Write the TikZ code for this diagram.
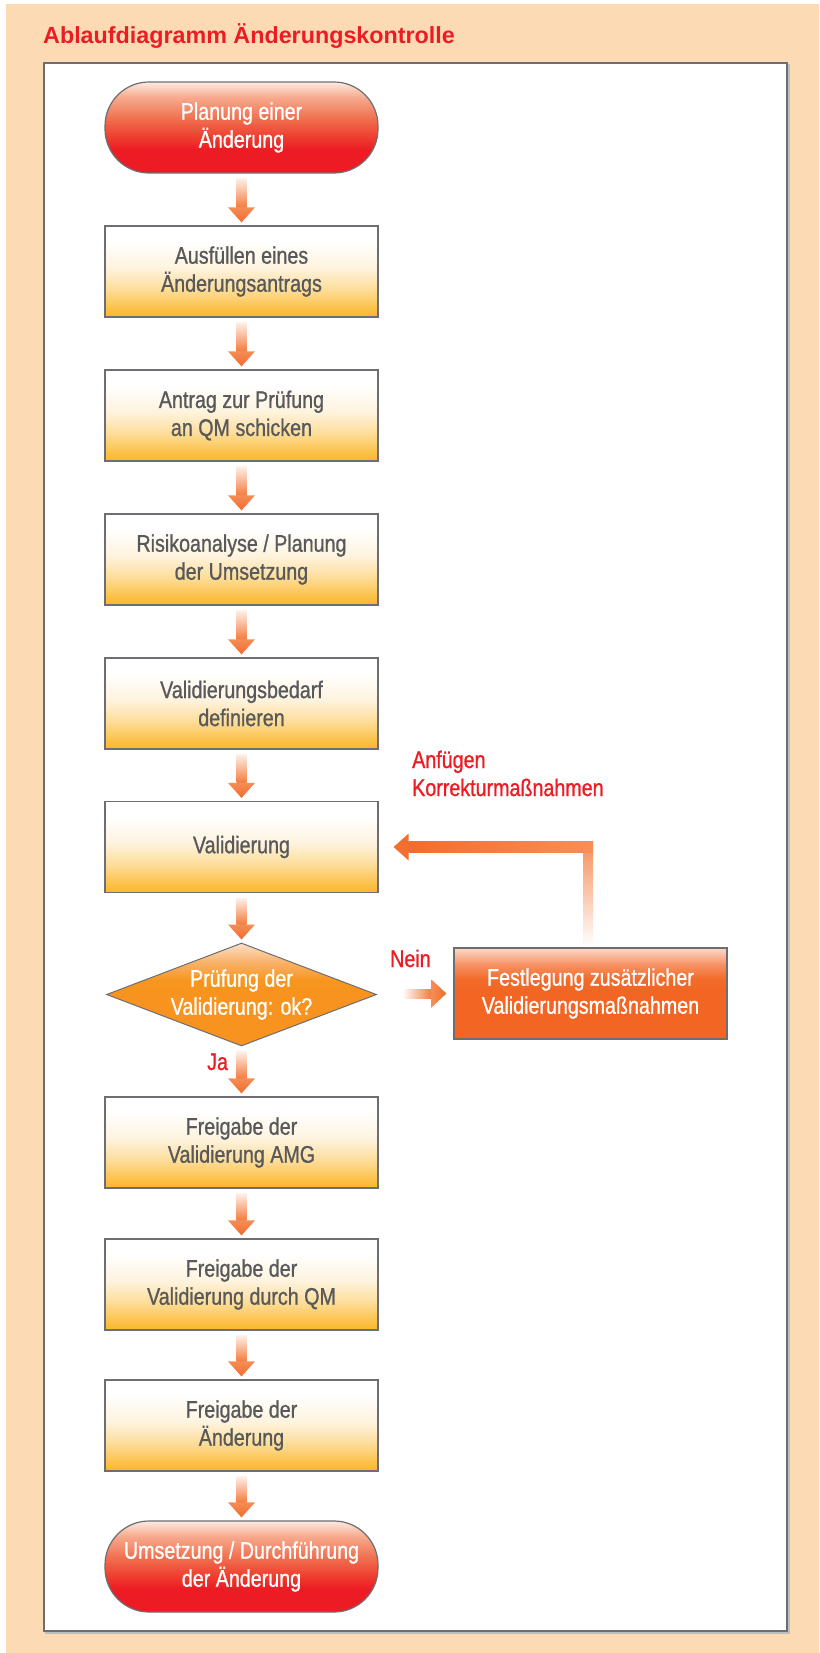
\documentclass[tikz,border=0pt]{standalone}
\usepackage{fontspec}
\setmainfont{Liberation Sans}
\newfontfamily\condf[FakeStretch=0.82,FakeBold=0.9]{Liberation Sans}
\usetikzlibrary{calc,shapes.geometric}

\definecolor{peach}{HTML}{FCDAB3}
\definecolor{peachlight}{HTML}{FDEFE0}
\definecolor{titlered}{HTML}{ED1C24}
\definecolor{framegray}{HTML}{6D6E71}
\definecolor{txtgray}{HTML}{58595B}
\definecolor{arrowc}{HTML}{F47B3C}
\definecolor{arrowA}{HTML}{F58D55}
\definecolor{arrowB}{HTML}{F26B2D}
% yellow box
\definecolor{ybA}{HTML}{FBB62B}
\definecolor{ybB}{HTML}{FCC24A}
\definecolor{ybC}{HTML}{FDDC98}
\definecolor{ybD}{HTML}{FEF3DE}
% red terminal
\definecolor{rtA}{HTML}{ED1C24}
\definecolor{rtB}{HTML}{EE3A2D}
\definecolor{rtC}{HTML}{F0704F}
\definecolor{rtD}{HTML}{F7AC90}
\definecolor{rtE}{HTML}{FDEBE2}
% diamond
\definecolor{odA}{HTML}{F7931E}
\definecolor{odB}{HTML}{F7961F}
\definecolor{odC}{HTML}{F9B36C}
\definecolor{odD}{HTML}{FCE0C8}
% action box
\definecolor{ofA}{HTML}{F26522}
\definecolor{ofB}{HTML}{F26B2A}
\definecolor{ofC}{HTML}{F69265}
\definecolor{ofD}{HTML}{FCD9C8}

\pgfdeclareverticalshading{ybox}{100bp}{color(0bp)=(ybA); color(25bp)=(ybA); color(30bp)=(ybB); color(40bp)=(ybC); color(52bp)=(ybD); color(67bp)=(white); color(100bp)=(white)}
\pgfdeclareverticalshading{rterm}{100bp}{color(0bp)=(rtA); color(38bp)=(rtA); color(44bp)=(rtB); color(55bp)=(rtC); color(67bp)=(rtD); color(75bp)=(rtE); color(100bp)=(rtE)}
\pgfdeclareverticalshading{odia}{100bp}{color(0bp)=(odA); color(50bp)=(odA); color(57bp)=(odB); color(66bp)=(odC); color(75bp)=(odD); color(100bp)=(odD)}
\pgfdeclareverticalshading{ofest}{100bp}{color(0bp)=(ofA); color(50bp)=(ofA); color(58bp)=(ofB); color(66bp)=(ofC); color(75bp)=(ofD); color(100bp)=(ofD)}

\newcommand{\nodefont}{\condf\fontsize{24}{28}\selectfont}

\tikzset{
  flowbox/.style={rectangle, draw=framegray, line width=1.2pt, shading=ybox,
    minimum width=273pt, minimum height=91pt, inner sep=0pt, align=center,
    font=\nodefont, text=txtgray},
  termbox/.style={rectangle, rounded corners=44pt, draw=framegray, line width=1.2pt,
    shading=rterm, minimum width=273pt, minimum height=91pt, inner sep=0pt,
    align=center, font=\nodefont, text=white},
  actbox/.style={rectangle, draw=framegray, line width=1.2pt, shading=ofest,
    minimum width=273pt, minimum height=91pt, inner sep=0pt, align=center,
    font=\nodefont, text=white},
  diabox/.style={diamond, draw=framegray, line width=1pt, shading=odia,
    minimum width=270pt, minimum height=103pt, inner sep=0pt},
  diatext/.style={align=center, font=\nodefont, text=white, inner sep=0pt},
  redlabel/.style={anchor=base west, inner sep=0pt, align=left,
    font=\nodefont, text=titlered}
}

% vertical gradient arrow between two named nodes
\newcommand{\flowdown}[2]{%
  \coordinate (fa) at ($(#1.south)+(0,5)$);
  \coordinate (fb) at ($(#2.north)+(0,-3)$);
  \shade[top color=arrowc!12!white, bottom color=arrowc]
    ($(fa)+(-5,0)$) rectangle ($(fb)+(5,-15)$);
  \shade[top color=arrowA, bottom color=arrowB]
    ($(fb)+(-13.5,-15)$) -- ($(fb)+(13.5,-15)$) -- (fb) -- cycle;
}

\begin{document}
\begin{tikzpicture}[x=1pt, y=-1pt]
\useasboundingbox (0,0) rectangle (819,1653);
\fill[white] (0,0) rectangle (819,1653);
\shade[top color=peach, middle color=peachlight, bottom color=peach]
  (6,5) rectangle (819,1653);

% title
\node[anchor=base west, inner sep=0pt, text=titlered,
  font=\bfseries\fontsize{23.3}{28}\selectfont] (title) at (43,44)
  {Ablaufdiagramm Änderungskontrolle};

% inner frame
\draw[framegray!45, line width=1.5pt] (46,65) rectangle (789,1633);
\draw[framegray, fill=white, line width=1.8pt] (44,63) rectangle (787,1631);

% nodes
\node[termbox] (n1) at (241.5,127.5) {Planung einer\\Änderung};
\node[flowbox] (n2) at (241.5,271.5) {Ausfüllen eines\\Änderungsantrags};
\node[flowbox] (n3) at (241.5,415.5) {Antrag zur Prüfung\\an QM schicken};
\node[flowbox] (n4) at (241.5,559.5) {Risikoanalyse / Planung\\der Umsetzung};
\node[flowbox] (n5) at (241.5,703.5) {Validierungsbedarf\\definieren};
\node[flowbox] (v) at (241.5,847) {Validierung};
\node[diabox] (d) at (241.5,994.5) {};
\node[diatext] (dt) at (d.center) {Prüfung der\\Validierung: ok?};
\node[actbox] (f) at (590.5,993.5) {Festlegung zusätzlicher\\Validierungsmaßnahmen};
\node[flowbox] (n8) at (241.5,1142.5) {Freigabe der\\Validierung AMG};
\node[flowbox] (n9) at (241.5,1284.5) {Freigabe der\\Validierung durch QM};
\node[flowbox] (n10) at (241.5,1425.5) {Freigabe der\\Änderung};
\node[termbox] (n11) at (241.5,1566.5) {Umsetzung / Durchführung\\der Änderung};

% vertical arrows
\flowdown{n1}{n2}
\flowdown{n2}{n3}
\flowdown{n3}{n4}
\flowdown{n4}{n5}
\flowdown{n5}{v}
\flowdown{v}{d}
\flowdown{d}{n8}
\flowdown{n8}{n9}
\flowdown{n9}{n10}
\flowdown{n10}{n11}

% Nein arrow
\coordinate (na) at ($(d.east)+(25,0)$);
\coordinate (nb) at ($(f.west)+(-7,0)$);
\shade[left color=white, right color=arrowc]
  ($(na)+(0,-5)$) rectangle ($(nb)+(-15,5)$);
\shade[left color=arrowA, right color=arrowB]
  ($(nb)+(-15,-14)$) -- (nb) -- ($(nb)+(-15,14)$) -- cycle;

% feedback arrow
\coordinate (fv) at ($(f.north)+(-2.5,-1)$);
\coordinate (fk) at (fv |- v.east);
\coordinate (fh) at ($(v.east)+(15,0)$);
\shade[bottom color=white, top color=arrowc!85!white]
  ($(fv)+(-5,0)$) rectangle ($(fk)+(5,-5.5)$);
\shade[left color=arrowB!90!arrowc, right color=arrowc!85!white]
  ($(fh)+(15,-5.5)$) rectangle ($(fk)+(5,5.5)$);
\fill[arrowB!80!arrowc] ($(fh)+(15,-13.5)$) -- (fh) -- ($(fh)+(15,13.5)$) -- cycle;

% labels
\node[redlabel] (lk) at (412,796) {Anfügen\\Korrekturmaßnahmen};
\node[redlabel] (ln) at (390,967) {Nein};
\node[redlabel] (lj) at (207,1070) {Ja};
\end{tikzpicture}
\end{document}
